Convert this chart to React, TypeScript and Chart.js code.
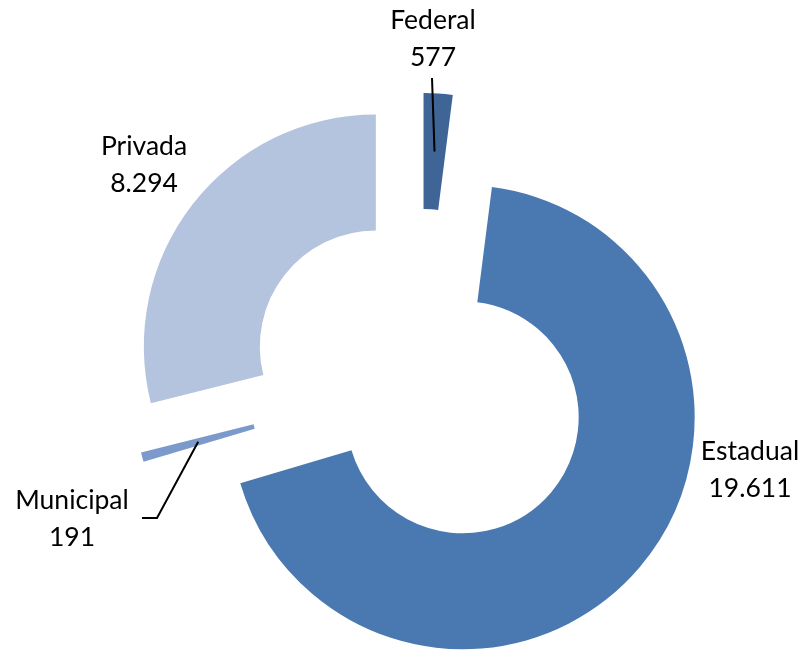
import React, { useEffect, useRef } from 'react';
import { Chart, registerables, ArcElement } from 'chart.js';

Chart.register(...registerables);

// ---- data ----
const categories = ['Federal', 'Estadual', 'Municipal', 'Privada'];
const values = [577, 19611, 191, 8294];

// ---- styles ----
const colors = ['#3F6596', '#4A79B1', '#7B9ACB', '#B4C3DE'];
const EXPLODE = 56;
const FONT = '26.5px Lato';
const LINE_GAP = 37;
// label block centres, relative to the chart centre
const labelOffsets: number[][] = [[13, -342], [330, 89], [-348, 138], [-276, -216]];
// leader line points (relative to chart centre), ending at the slice's ring middle
const leaders: (number[][] | null)[] = [[[12, -303]], null, [[-278, 137], [-263, 137]], null];

function fmt(v: number): string {
  return String(v).replace(/\B(?=(\d{3})+(?!\d))/g, '.');
}

// Exploded arcs: translate each arc by its offset without enlarging radii
const proto: any = ArcElement.prototype;
if (!proto.__exploded) {
  const orig = proto.draw;
  proto.draw = function (ctx: CanvasRenderingContext2D) {
    const saved = this.options;
    const off = (saved && saved.offset) || 0;
    if (!off) return orig.call(this, ctx);
    const mid = (this.startAngle + this.endAngle) / 2;
    ctx.save();
    ctx.translate(Math.cos(mid) * off, Math.sin(mid) * off);
    this.options = Object.assign({}, saved, { offset: 0 });
    try {
      orig.call(this, ctx);
    } finally {
      this.options = saved;
    }
    ctx.restore();
  };
  proto.__exploded = true;
}

const labelPlugin = {
  id: 'explodedLabels',
  afterDatasetsDraw(chart: any) {
    const meta = chart.getDatasetMeta(0);
    const ctx: CanvasRenderingContext2D = chart.ctx;
    ctx.save();
    ctx.font = FONT;
    ctx.fillStyle = '#000000';
    ctx.strokeStyle = '#000000';
    ctx.lineWidth = 2;
    ctx.textAlign = 'center';
    ctx.textBaseline = 'middle';
    meta.data.forEach((el: any, i: number) => {
      const { x, y, startAngle, endAngle, innerRadius, outerRadius } = el.getProps(
        ['x', 'y', 'startAngle', 'endAngle', 'innerRadius', 'outerRadius'],
        true
      );
      const off = (el.options && el.options.offset) || 0;
      const mid = (startAngle + endAngle) / 2;
      const cx = x + Math.cos(mid) * off;
      const cy = y + Math.sin(mid) * off;
      const rm = (innerRadius + outerRadius) / 2;
      const px = cx + Math.cos(mid) * rm;
      const py = cy + Math.sin(mid) * rm;
      const lead = leaders[i];
      if (lead) {
        ctx.beginPath();
        ctx.moveTo(x + lead[0][0], y + lead[0][1]);
        for (let k = 1; k < lead.length; k++) ctx.lineTo(x + lead[k][0], y + lead[k][1]);
        ctx.lineTo(px, py);
        ctx.stroke();
      }
      const [dx, dy] = labelOffsets[i];
      ctx.fillText(categories[i], x + dx, y + dy - LINE_GAP / 2);
      ctx.fillText(fmt(values[i]), x + dx, y + dy + LINE_GAP / 2);
    });
    ctx.restore();
  },
};

export default function App() {
  const canvasRef = useRef<HTMLCanvasElement | null>(null);

  useEffect(() => {
    if (!canvasRef.current) return;
    const chart = new Chart(canvasRef.current, {
      type: 'doughnut',
      data: {
        labels: categories,
        datasets: [
          {
            data: values,
            backgroundColor: colors,
            borderWidth: 0,
            offset: EXPLODE,
            hoverOffset: EXPLODE,
          } as any,
        ],
      },
      options: {
        animation: false,
        responsive: true,
        maintainAspectRatio: false,
        cutout: '50%',
        layout: { padding: { left: 36, right: 0, top: 121, bottom: 12 } },
        plugins: {
          legend: { display: false },
          tooltip: { enabled: false },
        },
        events: [],
      } as any,
      plugins: [labelPlugin],
    });
    return () => chart.destroy();
  }, []);

  return (
    <div style={{ position: 'fixed', left: 0, top: 0, width: 804, height: 653, background: '#ffffff' }}>
      <canvas ref={canvasRef} />
    </div>
  );
}
